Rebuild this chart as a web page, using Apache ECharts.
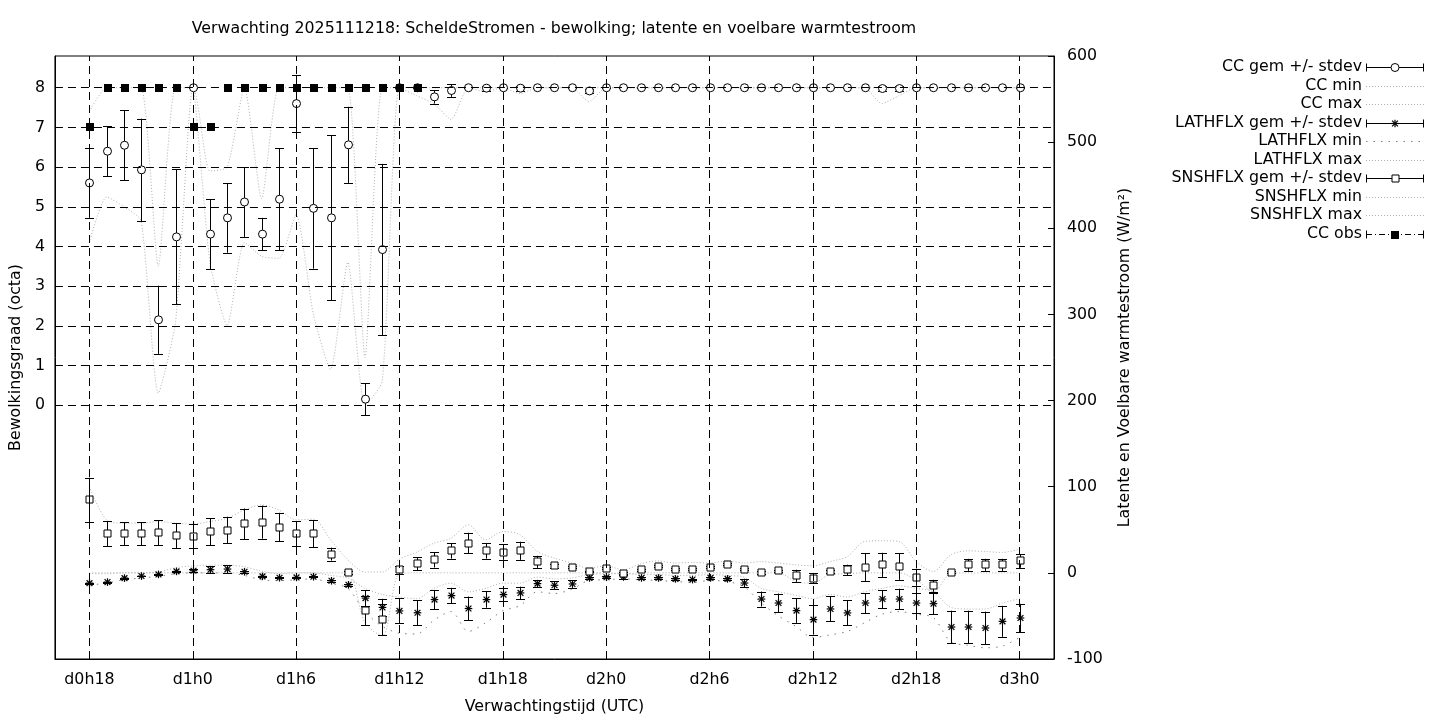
<!DOCTYPE html>
<html><head><meta charset="utf-8">
<script src="https://cdn.jsdelivr.net/npm/echarts@6/dist/echarts.min.js"></script>
<style>html,body{margin:0;padding:0;background:#fff}#c{width:1440px;height:720px}</style>
</head><body><div id="c"></div>
<script>
// ---------- DATA ----------
const hours = [0,1,2,3,4,5,6,7,8,9,10,11,12,13,14,15,16,17,18,19,20,21,22,23,24,25,26,27,28,29,
  30,31,32,33,34,35,36,37,38,39,40,41,42,43,44,45,46,47,48,49,50,51,52,53,54];
const xTickHours = [0,6,12,18,24,30,36,42,48,54];
const xTickLabels = ['d0h18','d1h0','d1h6','d1h12','d1h18','d2h0','d2h6','d2h12','d2h18','d3h0'];
const yTickValues = [0,1,2,3,4,5,6,7,8];

const ccMean = [5.6,6.4,6.55,5.93,2.15,4.24,8,4.31,4.72,5.12,
  4.31,5.19,7.6,4.96,4.72,6.56,0.15,3.92,8,8,
  7.77,7.93,8,7.99,8,7.99,8,8,8,7.92,
  8,8,8,8,8,8,8,8,8,8,
  8,8,8,8,8,8,7.98,7.98,8,8,
  8,8,8,8,8];
const ccStd = [0.88,0.63,0.88,1.29,0.86,1.7,0,0.88,0.88,0.88,
  0.41,1.29,0.72,1.52,2.08,0.96,0.4,2.16,0,0,
  0.17,0.16,0,0.06,0,0.06,0,0,0,0.05,
  0,0,0,0,0,0,0,0,0,0,
  0,0,0,0,0,0,0.06,0.06,0,0,
  0,0,0,0,0];
const ccMin = [4.1,5.25,5.0,4.65,0.3,2.1,8,3.6,2.0,4.1,
  3.75,3.7,4.8,2.3,0.9,3.6,0,0.6,8,7.8,
  7.6,7.2,8,7.9,8,7.85,8,8,8,7.65,
  8,8,8,8,8,8,8,8,8,8,
  8,8,8,8,8,8,7.6,7.8,8,8,
  8,8,8,8,8];
const ccMax = [7.4,8,8,8,3.5,8,8,5.9,6.0,8,
  5.2,8,8,8,8,8,1.2,8,8,8,
  8,8,8,8,8,8,8,8,8,8,
  8,8,8,8,8,8,8,8,8,8,
  8,8,8,8,8,8,8,8,8,8,
  8,8,8,8,8];
const obsHours = [0,1,2,3,4,5,6,7,8,9,10,11,12,13,14,15,16,17,18,19];
const ccObs = [7,8,8,8,8,8,7,7,8,8,8,8,8,8,8,8,8,8,8,8];

const lhMean = [-11.9,-10.7,-6.1,-3.7,-1.8,1.7,2.5,3.7,4.4,1.3,
  -4.1,-5.7,-5.3,-4.5,-9.2,-13.9,-29.3,-40.1,-44.2,-46.3,
  -31.0,-26.4,-41.4,-31.0,-25.2,-23.3,-12.5,-14.4,-12.9,-5.9,
  -5.1,-4.8,-5.9,-5.9,-7.0,-7.8,-5.9,-7.0,-11.8,-30.4,
  -35.0,-43.8,-54.3,-41.9,-46.5,-35.0,-30.4,-30.4,-35.0,-35.8,
  -62.9,-62.9,-64.0,-56.3,-52.4];
const lhStd = [0.5,0.5,0.5,0.5,0.5,1,2,3.9,4.6,1,
  0.5,0.5,0.5,0.5,1,1,9,10,14.5,14.7,
  11.2,9,13.9,9.5,8,7.3,4,4.8,4.4,1,
  1,2.5,1,1,1,1,1,1,5,8.7,
  11,14.3,17.4,14.5,14.5,11.6,10.6,12,11.6,12,
  19,19,19,18,16.4];
const lhMin = [-14,-12,-8,-6,-4,-1,0,0,0,-3,
  -8,-9,-8,-7,-12,-18,-45,-62,-70,-71,
  -55,-45,-68,-58,-44,-38,-22,-24,-19,-9,
  -8,-7,-8,-9,-10,-11,-9,-10,-16,-35,
  -50,-62,-75,-72,-68,-58,-48,-45,-48,-52,
  -80,-84,-87,-85,-75];
const lhMax = [-1,-1,0,0,1,6,8,9,9,7,
  2,-1,0,0,-3,-6,-18,-25,-28,-30,
  -18,-12,-22,-18,-12,-12,-5,-7,-6,-2,
  -1,-1,-2,-2,-3,-3,-2,-3,-5,-18,
  -22,-26,-30,-25,-28,-22,-18,-15,-18,-22,
  -40,-42,-42,-35,-30];

const shMean = [85,45.4,45.4,45.4,46.5,43.0,42.6,47.7,49.6,56.9,
  58.9,53.1,45.4,45.4,21.8,0.5,-43.8,-54.3,3.5,10.5,
  15.2,25.6,34.5,25.6,24.1,25.6,12.8,8.2,6.6,1.6,
  5.5,-0.3,3.5,7.8,4.3,4.3,6.6,10.1,4.3,0.5,
  2.4,-3.4,-6.1,1.6,3.5,6.6,9.3,7.4,-5.0,-15.0,
  0.9,9.3,9.3,9.3,13.9];
const shStd = [25.5,14.8,13.5,13.5,14.4,14.5,14,15.5,15.5,17.8,
  19.2,16.6,14.6,15.7,7.5,2,17,18,4.8,7.7,
  9,9,12,9,9,10.5,7,2,1,1,
  1,1.5,1,1,1,1,1,1.5,1,1.5,
  1,7,6,1.5,6,16,14,15.5,10,7,
  1.5,7,7,7,8];
const shMin = [0,0,0,0,0,0,0,0,0,0,
  0,0,0,0,0,0,-58,-73,-1,0,
  0,0,0,0,0,0,0,0,0,0,
  0,-1,0,0,0,0,0,0,0,0,
  0,-10,-12,-2,-1,0,0,0,-8,-22,
  -1,0,0,0,0];
const shMax = [100,61.5,57.7,57.7,59.6,57.7,56.6,59.6,63.4,73,
  78.8,73,61.5,62.3,38.5,15.3,1,1,16,24,
  34.5,40.3,55.7,38.4,48,44.2,24.9,17.1,11.4,5.5,
  8.2,3.5,10.5,13.9,11.4,12.2,11.4,13.9,11.4,13,
  11.4,9.3,8.2,13.1,18.9,36.4,37.3,36.4,13.1,1.6,
  20.9,25.6,24.8,23.7,27.5];

const titleText = 'Verwachting 2025111218: ScheldeStromen - bewolking; latente en voelbare warmtestroom';
const legendNames = ['CC gem +/- stdev','CC min','CC max','LATHFLX gem +/- stdev','LATHFLX min','LATHFLX max',
  'SNSHFLX gem +/- stdev','SNSHFLX min','SNSHFLX max','CC obs'];

// ---------- STYLE ----------
const FONT = 'DejaVu Sans';
const FS = 15.8;
const LIGHT = '#b0b0b0';
const DARK = '#808080';
const FINE_DOT = [1, 2];
const SPARSE_DOT = [1.5, 6];

function px(v){ return Math.round(v) + 0.5; }

function symbolShapes(sym, cx, cy) {
  const st = {stroke:'#000', lineWidth:1, fill:'#fff'};
  if (sym === 'circle') return [{type:'circle', shape:{cx:cx, cy:cy, r:4}, style:st}];
  if (sym === 'square') return [{type:'rect', shape:{x:px(cx-3.5)-0.5, y:px(cy-3.5)-0.5, width:7, height:7}, style:st}];
  if (sym === 'fsquare') return [{type:'rect', shape:{x:Math.round(cx-4), y:Math.round(cy-4), width:8, height:8}, style:{fill:'#000'}}];
  if (sym === 'star') {
    const s = {stroke:'#000', lineWidth:1.2}; const a = 3.8, d = 2.9;
    return [
      {type:'line', shape:{x1:cx-a, y1:cy, x2:cx+a, y2:cy}, style:s},
      {type:'line', shape:{x1:cx, y1:cy-a, x2:cx, y2:cy+a}, style:s},
      {type:'line', shape:{x1:cx-d, y1:cy-d, x2:cx+d, y2:cy+d}, style:s},
      {type:'line', shape:{x1:cx-d, y1:cy+d, x2:cx+d, y2:cy-d}, style:s}
    ];
  }
  return [];
}

function errSeries(name, xs, means, stds, axis, sym, z) {
  return {
    type:'custom', name:name, yAxisIndex:axis, z:z, silent:true,
    data: xs.map((h,i)=>[h, means[i], means[i]-stds[i], means[i]+stds[i]]),
    renderItem: function(params, api) {
      const x = api.value(0);
      const c = api.coord([x, api.value(1)]);
      const lo = api.coord([x, api.value(2)]);
      const hi = api.coord([x, api.value(3)]);
      const st = {stroke:'#000', lineWidth:1};
      const X = px(c[0]);
      const kids = [];
      if (sym !== 'fsquare') {
        kids.push({type:'line', shape:{x1:X, y1:lo[1], x2:X, y2:hi[1]}, style:st});
        kids.push({type:'line', shape:{x1:X-4.5, y1:px(lo[1]), x2:X+4.5, y2:px(lo[1])}, style:st});
        kids.push({type:'line', shape:{x1:X-4.5, y1:px(hi[1]), x2:X+4.5, y2:px(hi[1])}, style:st});
      }
      return {type:'group', children: kids.concat(symbolShapes(sym, X, c[1]))};
    }
  };
}

function lineSeries(name, vals, axis, color, dash, smooth) {
  return {
    type:'line', name:name, yAxisIndex:axis, z:1, silent:true,
    data: hours.map((h,i)=>[h, vals[i]]),
    symbol:'none', showSymbol:false, smooth:smooth,
    lineStyle:{color:color, width:1, type:dash}
  };
}

const gridLines = {
  type:'line', name:'grid', data:[], yAxisIndex:0, z:0, silent:true,
  markLine:{
    silent:true, symbol:['none','none'], label:{show:false}, animation:false,
    lineStyle:{color:'#000', width:1, type:[8,5]},
    emphasis:{disabled:true},
    data: yTickValues.map(v=>({yAxis:v})).concat(xTickHours.map(v=>({xAxis:v})))
  }
};

// legend graphics
const LX_TEXT = 1362, LX0 = 1366, LX1 = 1424, LXS = 1395, LY0 = 67, LDY = 18.5;
const legendKinds = ['err-circle','fine','fine','err-star','sparse','fine','err-square','fine','fine','obs'];
const legendGraphics = [];
legendNames.forEach((n,i)=>{
  const y = LY0 + i*LDY;
  legendGraphics.push({type:'text', x:LX_TEXT, y:y, style:{text:n, align:'right', verticalAlign:'middle', fontFamily:FONT, fontSize:FS, fill:'#000'}});
  const k = legendKinds[i];
  const Y = px(y);
  if (k.startsWith('err') || k === 'obs') {
    const st = {stroke:'#000', lineWidth:1, lineDash: k==='obs' ? [6,3,1,3] : null};
    legendGraphics.push({type:'line', shape:{x1:LX0, y1:Y, x2:LX1, y2:Y}, style:st});
    legendGraphics.push({type:'line', shape:{x1:LX0+0.5, y1:Y-4, x2:LX0+0.5, y2:Y+4}, style:{stroke:'#000', lineWidth:1}});
    legendGraphics.push({type:'line', shape:{x1:LX1-0.5, y1:Y-4, x2:LX1-0.5, y2:Y+4}, style:{stroke:'#000', lineWidth:1}});
    const sym = k==='obs' ? 'fsquare' : k.split('-')[1];
    symbolShapes(sym, LXS, Y).forEach(s=>legendGraphics.push(s));
  } else {
    legendGraphics.push({type:'line', shape:{x1:LX0, y1:Y, x2:LX1, y2:Y},
      style:{stroke: k==='sparse'?DARK:LIGHT, lineWidth:1, lineDash: k==='sparse'?SPARSE_DOT:FINE_DOT}});
  }
});

const axisText = {fontFamily:FONT, fontSize:FS, color:'#000'};

const option = {
  animation:false,
  backgroundColor:'#fff',
  grid:{left:54, top:56, width:1000, height:603, show:true, borderColor:'#000', borderWidth:1, containLabel:false},
  xAxis:{
    type:'value', min:-2, max:56,
    axisLine:{show:true, onZero:false, lineStyle:{color:'#000', width:1}},
    axisTick:{show:true, inside:true, length:6, customValues:xTickHours, lineStyle:{color:'#000'}},
    axisLabel:Object.assign({customValues:xTickHours, margin:13,
      formatter:function(v){ const i = xTickHours.indexOf(Math.round(v)); return i>=0 ? xTickLabels[i] : ''; }}, axisText),
    splitLine:{show:false},
    name:'Verwachtingstijd (UTC)', nameLocation:'middle', nameGap:40, nameTextStyle:axisText
  },
  yAxis:[{
    type:'value', min:-6.4, max:8.8, position:'left',
    axisLine:{show:true, onZero:false, lineStyle:{color:'#000', width:1}},
    axisTick:{show:true, inside:true, length:6, customValues:yTickValues, lineStyle:{color:'#000'}},
    axisLabel:Object.assign({customValues:yTickValues, margin:10}, axisText),
    splitLine:{show:false},
    name:'Bewolkingsgraad (octa)', nameLocation:'middle', nameGap:27, nameRotate:90, nameTextStyle:axisText
  },{
    type:'value', min:-100, max:600, interval:100, position:'right',
    axisLine:{show:true, onZero:false, lineStyle:{color:'#000', width:1}},
    axisTick:{show:true, inside:true, length:6, lineStyle:{color:'#000'}},
    axisLabel:Object.assign({margin:13}, axisText),
    splitLine:{show:false},
    name:'Latente en Voelbare warmtestroom (W/m²)', nameLocation:'middle', nameGap:63, nameRotate:90, nameTextStyle:axisText
  }],
  graphic:[{type:'text', x:554, y:29, style:{text:titleText, align:'center', verticalAlign:'middle', fontFamily:FONT, fontSize:FS, fill:'#000'}}].concat(legendGraphics),
  series:[
    gridLines,
    lineSeries('CC min', ccMin, 0, LIGHT, FINE_DOT, 0.2),
    lineSeries('CC max', ccMax, 0, LIGHT, FINE_DOT, 0.2),
    lineSeries('LATHFLX min', lhMin, 1, DARK, SPARSE_DOT, 0.3),
    lineSeries('LATHFLX max', lhMax, 1, LIGHT, FINE_DOT, 0.3),
    lineSeries('SNSHFLX min', shMin, 1, LIGHT, FINE_DOT, 0.3),
    lineSeries('SNSHFLX max', shMax, 1, LIGHT, FINE_DOT, 0.3),
    errSeries('CC gem +/- stdev', hours, ccMean, ccStd, 0, 'circle', 3),
    errSeries('LATHFLX gem +/- stdev', hours, lhMean, lhStd, 1, 'star', 3),
    errSeries('SNSHFLX gem +/- stdev', hours, shMean, shStd, 1, 'square', 3),
    errSeries('CC obs', obsHours, ccObs, obsHours.map(()=>0), 0, 'fsquare', 4)
  ]
};
const chart = echarts.init(document.getElementById('c'));
chart.setOption(option);
</script></body></html>
